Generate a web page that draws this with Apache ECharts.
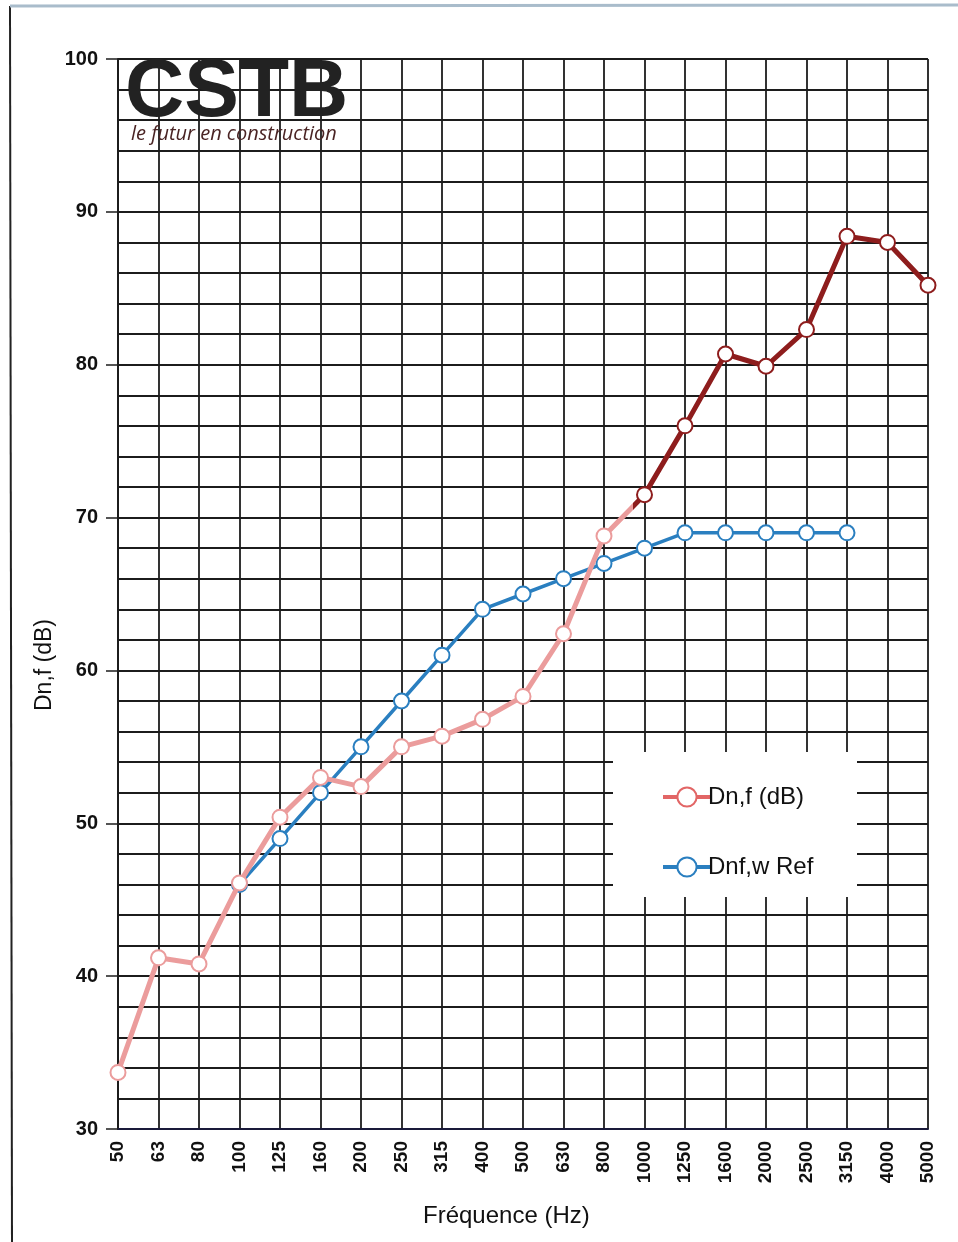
<!DOCTYPE html>
<html>
<head>
<meta charset="utf-8">
<title>Dn,f</title>
<script src="https://cdn.jsdelivr.net/npm/echarts@6/dist/echarts.min.js"></script>
<style>
  html, body { margin: 0; padding: 0; background: #fff; }
  #main { width: 958px; height: 1242px; }
</style>
</head>
<body>
<div id="main"></div>
<script>
// frequences en Hz (tiers d'octave)
var frequences = ['50', '63', '80', '100', '125', '160', '200', '250', '315', '400', '500',
  '630', '800', '1000', '1250', '1600', '2000', '2500', '3150', '4000', '5000'];

// Dn,f mesure
var dnf = [33.7, 41.2, 40.8, 46.1, 50.4, 53.0, 52.4, 55.0, 55.7, 56.8, 58.3,
  62.4, 68.8, 71.5, 76.0, 80.7, 79.9, 82.3, 88.4, 88.0, 85.2];

// courbe de reference Dnf,w (100 a 3150 Hz)
var dnfRef = [null, null, null, 46, 49, 52, 55, 58, 61, 64, 65,
  66, 67, 68, 69, 69, 69, 69, 69, null, null];

var yTicks = [30, 40, 50, 60, 70, 80, 90, 100];

var gridColor = '#1c1c1c';
var font = '"Liberation Sans", Arial, sans-serif';

// partie basse de la courbe rouge pâlie sur le scan, partie haute foncée
var pale = '#eb9c9c', dark = '#8e1d1d', legendRed = '#e26666', blue = '#2a7fc0';
var cut = 12.7 / (frequences.length - 1);

var dnfData = dnf.map(function (v, i) {
  return { value: v, itemStyle: { color: i >= 13 ? dark : pale } };
});

var myChart = echarts.init(document.getElementById('main'));

var option = {
  backgroundColor: '#fff',
  animation: false,
  grid: {
    left: 118,
    right: 30,
    top: 59,
    bottom: 113
  },
  xAxis: {
    type: 'category',
    data: frequences,
    boundaryGap: false,
    axisLine: { lineStyle: { color: '#1a1a3a', width: 2 } },
    axisTick: { show: false },
    axisLabel: {
      rotate: 90,
      margin: 12,
      color: '#111',
      fontFamily: font,
      fontWeight: 'bold',
      fontSize: 19
    },
    splitLine: { show: true, lineStyle: { color: gridColor, width: 1.8 } }
  },
  yAxis: {
    type: 'value',
    min: yTicks[0],
    max: yTicks[yTicks.length - 1],
    interval: 10,
    axisLine: { show: true, lineStyle: { color: gridColor, width: 2 } },
    axisTick: { show: true, length: 12, lineStyle: { color: gridColor, width: 1.5 } },
    axisLabel: {
      margin: 20,
      color: '#111',
      fontFamily: font,
      fontWeight: 'bold',
      fontSize: 20
    },
    splitLine: { show: true, lineStyle: { color: gridColor, width: 1.8 } },
    minorTick: { show: false, splitNumber: 5 },
    minorSplitLine: { show: true, lineStyle: { color: gridColor, width: 1.8 } }
  },
  legend: {
    orient: 'vertical',
    left: 656,
    top: 779,
    itemWidth: 48,
    itemHeight: 24,
    itemGap: 44,
    textStyle: {
      fontFamily: font,
      fontSize: 24,
      lineHeight: 26,
      color: '#111',
      padding: [0, 0, 0, -8]
    },
    data: [
      { name: 'Dn,f (dB)', itemStyle: { color: legendRed, borderWidth: 3 },
        lineStyle: { color: legendRed, width: 4 } },
      { name: 'Dnf,w Ref', itemStyle: { color: blue, borderWidth: 3 },
        lineStyle: { color: blue, width: 4 } }
    ]
  },
  graphic: [
    // bord de la page scannee
    { type: 'line', shape: { x1: 10, y1: 6, x2: 12, y2: 1242 },
      style: { stroke: '#222', lineWidth: 2 }, silent: true },
    { type: 'line', shape: { x1: 10, y1: 6, x2: 958, y2: 5 },
      style: { stroke: '#a9bccb', lineWidth: 3 }, silent: true },
    // fond blanc de la legende
    { type: 'rect', z: 3, shape: { x: 613, y: 752, width: 244, height: 145 },
      style: { fill: '#fff' }, silent: true },
    // logo
    { type: 'text', z: 5, left: 125, top: 52,
      style: { text: 'CSTB', font: 'bold 82px ' + font, fill: '#222' } },
    { type: 'text', z: 5, left: 131, top: 124,
      style: { text: 'le futur en construction', font: 'italic 20px "Open Sans", sans-serif', fill: '#4a2424' } },
    // titres des axes
    { type: 'text', left: 33, top: 619, rotation: Math.PI / 2,
      style: { text: 'Dn,f (dB)', font: '23px ' + font, fill: '#111' } },
    { type: 'text', left: 423, top: 1204,
      style: { text: 'Fréquence (Hz)', font: '24px ' + font, fill: '#111' } }
  ],
  series: [
    {
      name: 'Dn,f (dB)',
      type: 'line',
      data: dnfData,
      symbol: 'emptyCircle',
      symbolSize: 15,
      z: 4,
      itemStyle: { color: legendRed, borderWidth: 3 },
      lineStyle: {
        width: 5,
        color: {
          type: 'linear', x: 0, y: 0, x2: 1, y2: 0,
          colorStops: [
            { offset: 0, color: pale },
            { offset: cut, color: pale },
            { offset: cut, color: dark },
            { offset: 1, color: dark }
          ]
        }
      }
    },
    {
      name: 'Dnf,w Ref',
      type: 'line',
      data: dnfRef,
      symbol: 'emptyCircle',
      symbolSize: 15,
      z: 3,
      itemStyle: { color: blue, borderWidth: 3 },
      lineStyle: { width: 3.5 }
    }
  ]
};

myChart.setOption(option);
</script>
</body>
</html>
